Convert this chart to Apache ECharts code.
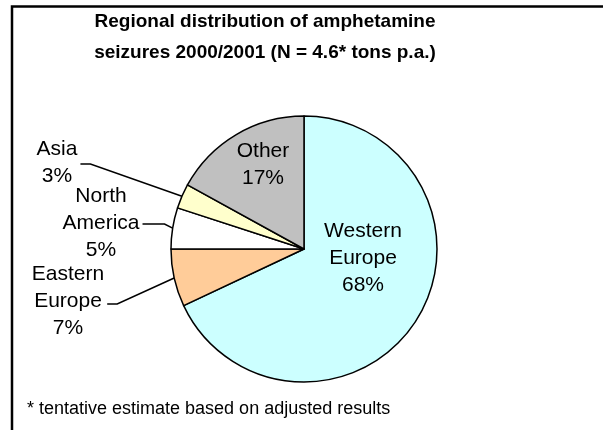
<!DOCTYPE html>
<html>
<head>
<meta charset="utf-8">
<style>
  html, body { margin: 0; padding: 0; background: #fff; }
  #chart { width: 603px; height: 430px; }
</style>
<script src="https://cdn.jsdelivr.net/npm/echarts@6/dist/echarts.min.js"></script>
</head>
<body>
<div id="chart"></div>
<script>
// Regional shares of amphetamine seizures, 2000/2001 (percent)
const regions = ['Western Europe', 'Eastern Europe', 'North America', 'Asia', 'Other'];
const shares = [68, 7, 5, 3, 17];
const sliceColors = ['#CCFFFF', '#FFCC99', '#FFFFFF', '#FFFFCC', '#C0C0C0'];
const outsideLabel = [false, true, true, true, false];

const titleText = 'Regional distribution of amphetamine\nseizures 2000/2001 (N = 4.6* tons p.a.)';
const footnote = '* tentative estimate based on adjusted results';

// Where each label block sits (centre), plus leader-line details for outside labels
const labelPlacement = [
  { x: 363, y: 258 },
  { x: 68, y: 301, lineDy: 3, knee: 10 },
  { x: 101, y: 223, lineDy: 1, knee: 22 },
  { x: 57, y: 163, lineDy: 1, knee: 10 },
  { x: 263, y: 165 }
];

const FONT = '"Liberation Sans", Arial, Helvetica, sans-serif';

const chart = echarts.init(document.getElementById('chart'), null, { renderer: 'canvas' });

const pieData = regions.map(function (name, i) {
  return {
    name: name,
    value: shares[i],
    itemStyle: { color: sliceColors[i] },
    label: { position: outsideLabel[i] ? 'outside' : 'inside' },
    labelLine: { show: outsideLabel[i] }
  };
});

chart.setOption({
  animation: false,
  backgroundColor: '#ffffff',
  title: {
    text: titleText,
    left: 265,
    top: 6,
    textAlign: 'center',
    padding: 0,
    textStyle: {
      fontFamily: FONT,
      fontSize: 19,
      fontWeight: 'bold',
      lineHeight: 31,
      color: '#000'
    }
  },
  graphic: [
    {
      type: 'rect',
      shape: { x: 12, y: 6.5, width: 700, height: 500 },
      style: { fill: 'none', stroke: '#000', lineWidth: 2.5 },
      silent: true,
      z: 0
    },
    {
      type: 'text',
      x: 27,
      y: 409,
      style: {
        text: footnote,
        font: '18px ' + FONT,
        fill: '#000',
        verticalAlign: 'middle',
        align: 'left'
      },
      silent: true
    }
  ],
  series: [
    {
      type: 'pie',
      center: [304, 249],
      radius: [0, 133],
      startAngle: 90,
      clockwise: true,
      avoidLabelOverlap: false,
      emphasis: { disabled: true },
      silent: true,
      itemStyle: { borderColor: '#000', borderWidth: 1.5 },
      label: {
        show: true,
        color: '#000',
        fontFamily: FONT,
        fontSize: 21,
        lineHeight: 27,
        align: 'center',
        formatter: function (p) {
          return p.name.split(' ').join('\n') + '\n' + p.value + '%';
        }
      },
      labelLine: {
        length: 20,
        length2: 10,
        lineStyle: { color: '#000', width: 1.5 }
      },
      labelLayout: function (params) {
        const p = labelPlacement[params.dataIndex];
        const out = { x: p.x, y: p.y, align: 'center', verticalAlign: 'middle' };
        if (p.knee != null && params.labelLinePoints && params.labelLinePoints.length) {
          const edge = params.labelLinePoints[0];
          const start = p.x + params.labelRect.width / 2 + 3;
          const ly = p.y + p.lineDy;
          out.labelLinePoints = [edge, [start + p.knee, ly], [start, ly]];
        }
        return out;
      },
      data: pieData
    }
  ]
});
</script>
</body>
</html>
